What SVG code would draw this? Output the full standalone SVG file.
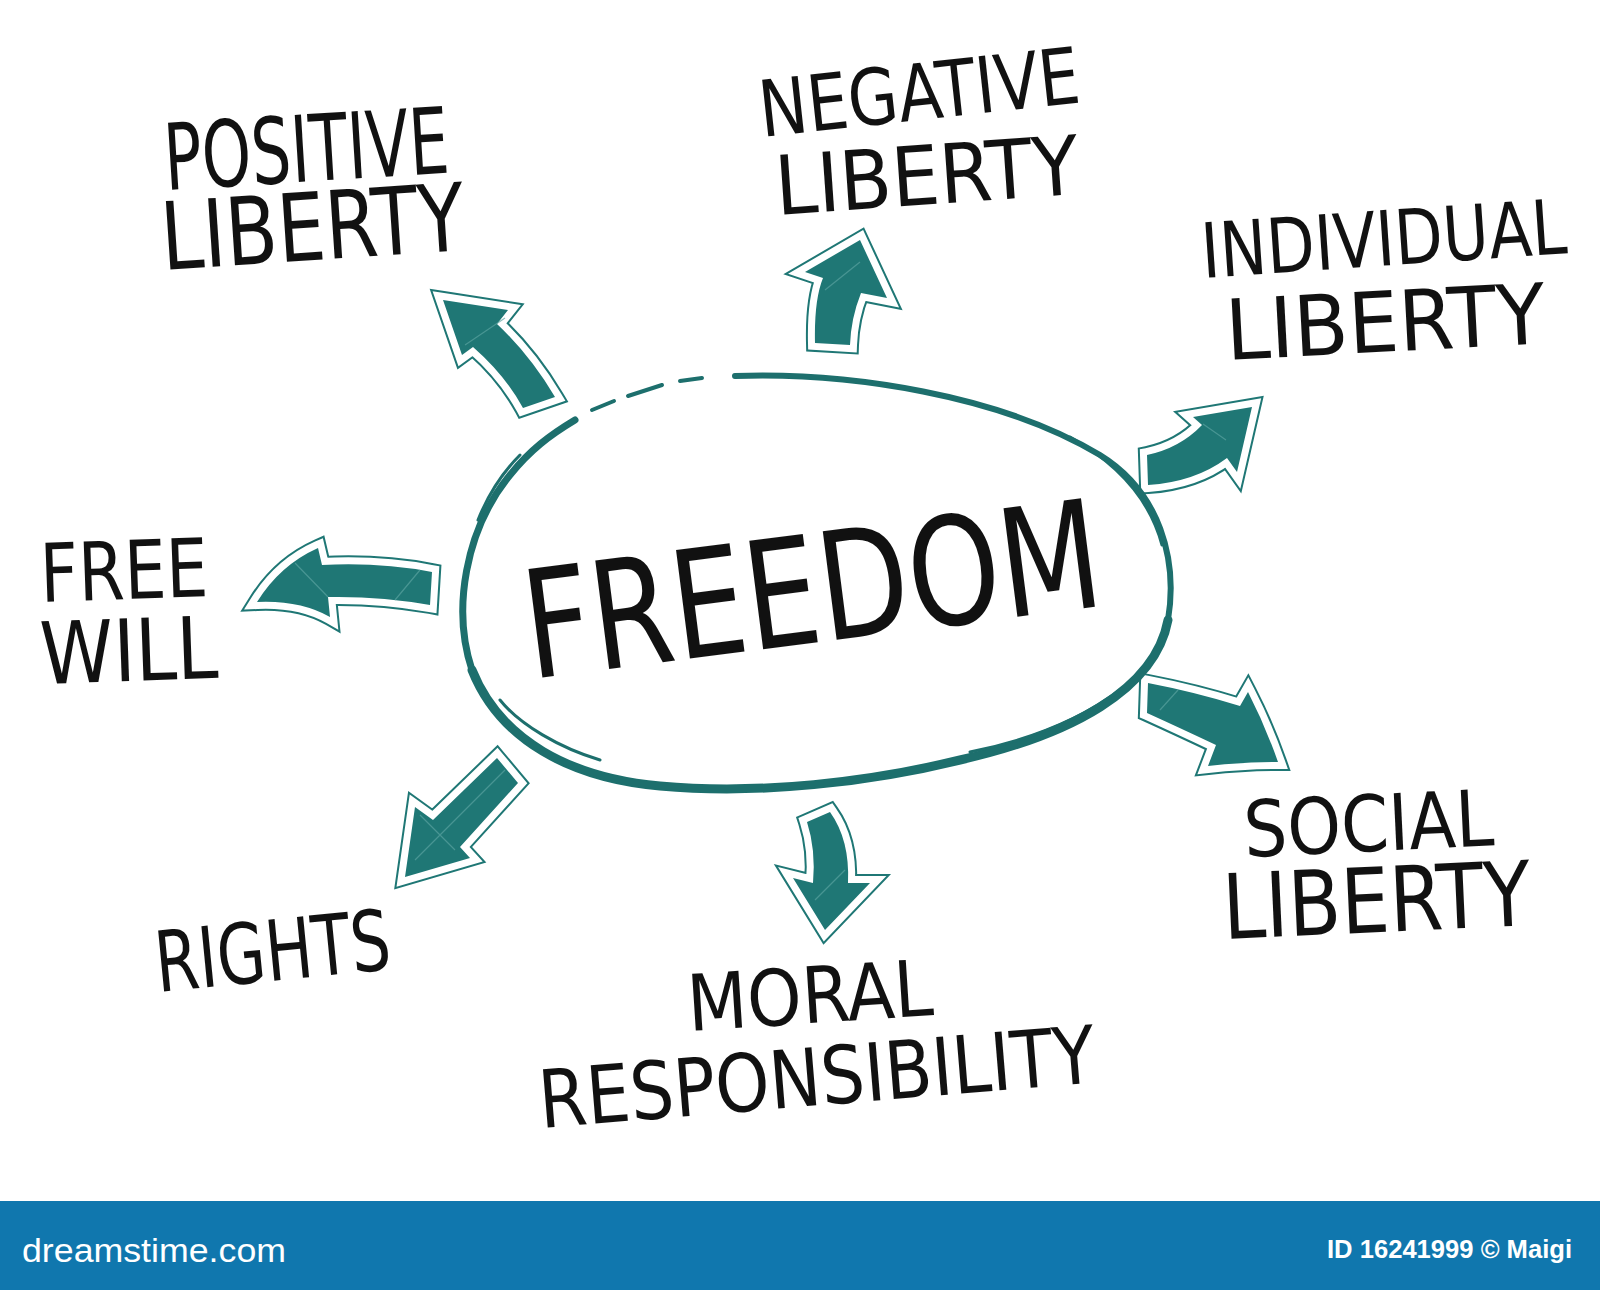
<svg xmlns="http://www.w3.org/2000/svg" xmlns:xlink="http://www.w3.org/1999/xlink" width="1600" height="1290" viewBox="0 0 1600 1290">
<style>
.o{fill:#1f7775;stroke:#1f7775;stroke-width:18;stroke-linejoin:miter;stroke-miterlimit:4}
.w{fill:#ffffff;stroke:#ffffff;stroke-width:14;stroke-linejoin:miter;stroke-miterlimit:4}
.f{fill:#1f7775;stroke:none}
.fold{fill:none;stroke:#5aa3a0;stroke-width:1.2;opacity:0.7}
.hw{font-family:"Liberation Sans Narrow","DejaVu Sans Condensed","Liberation Sans",sans-serif;fill:#111111}
.ring{fill:none;stroke:#1d6f6d;stroke-linecap:round;stroke-linejoin:round}
.banner{font-family:"Liberation Sans","DejaVu Sans",sans-serif;fill:#ffffff}
</style>
<defs>
<path id="a1" d="M443,300 L508,310 L497,324 Q530,355 555,397 L523,408 Q505,375 473,347 L462,355 Z"/>
<path id="a2" d="M860,240 L887,298 L861,293 Q851,318 850,345 L815,343 Q814,300 823,278 L805,272 Z"/>
<path id="a3" d="M1252,407 L1237,472 L1227,458 Q1195,482 1148,485 L1147,455 Q1180,448 1202,425 L1193,417 Z"/>
<path id="a4" d="M257,602 Q280,565 318,548 L322,565 Q380,562 432,572 L430,605 Q380,596 328,597 L330,617 Q300,600 257,602 Z"/>
<path id="a5" d="M1148,683 Q1195,692 1240,706 L1248,692 Q1265,725 1278,762 Q1245,762 1208,766 L1216,745 Q1180,728 1147,713 Z"/>
<path id="a6" d="M807,822 L830,812 Q850,840 848,883 L870,883 L825,930 L793,878 L813,883 Q816,850 807,822 Z"/>
<path id="a7" d="M497,758 L518,783 L460,847 L470,858 L405,877 L415,807 L433,820 Z"/>
</defs>
<rect x="0" y="0" width="1600" height="1290" fill="#ffffff"/>

<g id="connectors">
  <g id="arrow-positive"><use xlink:href="#a1" class="o"/><use xlink:href="#a1" class="w"/><use xlink:href="#a1" class="f"/><path class="fold" d="M465,345 L505,318"/></g>
  <g id="arrow-negative"><use xlink:href="#a2" class="o"/><use xlink:href="#a2" class="w"/><use xlink:href="#a2" class="f"/><path class="fold" d="M825,290 L860,262"/></g>
  <g id="arrow-individual"><use xlink:href="#a3" class="o"/><use xlink:href="#a3" class="w"/><use xlink:href="#a3" class="f"/><path class="fold" d="M1203,424 L1226,440"/></g>
  <g id="arrow-freewill"><use xlink:href="#a4" class="o"/><use xlink:href="#a4" class="w"/><use xlink:href="#a4" class="f"/><path class="fold" d="M295,563 L328,597 M395,600 L420,570"/></g>
  <g id="arrow-social"><use xlink:href="#a5" class="o"/><use xlink:href="#a5" class="w"/><use xlink:href="#a5" class="f"/><path class="fold" d="M1160,710 L1178,690"/></g>
  <g id="arrow-moral"><use xlink:href="#a6" class="o"/><use xlink:href="#a6" class="w"/><use xlink:href="#a6" class="f"/><path class="fold" d="M815,900 L845,870"/></g>
  <g id="arrow-rights"><use xlink:href="#a7" class="o"/><use xlink:href="#a7" class="w"/><use xlink:href="#a7" class="f"/><path class="fold" d="M420,815 L455,850 M415,860 L505,770"/></g>
</g>

<g id="node-freedom">
  <path class="ring" stroke-width="6" d="M735,376 C850,372 1000,395 1100,455 C1160,492 1178,560 1168,620"/>
  <path class="ring" stroke-width="9" d="M1168,620 C1155,690 1070,735 960,760 C870,782 760,795 660,786 C570,778 500,740 472,670"/>
  <path class="ring" stroke-width="7" d="M472,670 C452,610 465,530 510,475 C530,450 550,435 575,420"/>
  <path class="ring" stroke-width="3" d="M1070,437 C1120,465 1150,500 1162,545 M1120,690 C1080,720 1030,740 970,752 M600,760 C560,748 520,725 500,700 M478,520 C490,490 505,470 520,455"/>
  <path class="ring" stroke-width="4" d="M592,410 L614,401 M628,396 L662,385 M680,381 L702,378"/>
  <text class="hw" x="531" y="679" font-size="150" textLength="580" lengthAdjust="spacingAndGlyphs" transform="rotate(-7.3 531 679)">FREEDOM</text>
</g>

<g id="node-positive-liberty">
  <text class="hw" x="166" y="190" font-size="92" textLength="285" lengthAdjust="spacingAndGlyphs" transform="rotate(-3.5 166 190)">POSITIVE</text>
  <text class="hw" x="163" y="270" font-size="94" textLength="304" lengthAdjust="spacingAndGlyphs" transform="rotate(-3.8 163 270)">LIBERTY</text>
</g>

<g id="node-negative-liberty">
  <text class="hw" x="762" y="137" font-size="78" textLength="322" lengthAdjust="spacingAndGlyphs" transform="rotate(-6.2 762 137)">NEGATIVE</text>
  <text class="hw" x="777" y="215" font-size="82" textLength="304" lengthAdjust="spacingAndGlyphs" transform="rotate(-4 777 215)">LIBERTY</text>
</g>

<g id="node-individual-liberty">
  <text class="hw" x="1203" y="278" font-size="76" textLength="366" lengthAdjust="spacingAndGlyphs" transform="rotate(-3.9 1203 278)">INDIVIDUAL</text>
  <text class="hw" x="1227" y="360" font-size="84" textLength="320" lengthAdjust="spacingAndGlyphs" transform="rotate(-3 1227 360)">LIBERTY</text>
</g>

<g id="node-free-will">
  <text class="hw" x="41" y="602" font-size="81" textLength="168" lengthAdjust="spacingAndGlyphs" transform="rotate(-2 41 602)">FREE</text>
  <text class="hw" x="41" y="684" font-size="86" textLength="178" lengthAdjust="spacingAndGlyphs" transform="rotate(-2 41 684)">WILL</text>
</g>

<g id="node-rights">
  <text class="hw" x="158" y="992" font-size="84" textLength="236" lengthAdjust="spacingAndGlyphs" transform="rotate(-5.6 158 992)">RIGHTS</text>
</g>

<g id="node-moral-responsibility">
  <text class="hw" x="689" y="1031" font-size="78" textLength="246" lengthAdjust="spacingAndGlyphs" transform="rotate(-3.7 689 1031)">MORAL</text>
  <text class="hw" x="541" y="1128" font-size="80" textLength="558" lengthAdjust="spacingAndGlyphs" transform="rotate(-4.7 541 1128)">RESPONSIBILITY</text>
</g>

<g id="node-social-liberty">
  <text class="hw" x="1245" y="857" font-size="78" textLength="250" lengthAdjust="spacingAndGlyphs" transform="rotate(-2.7 1245 857)">SOCIAL</text>
  <text class="hw" x="1224" y="939" font-size="90" textLength="308" lengthAdjust="spacingAndGlyphs" transform="rotate(-2.6 1224 939)">LIBERTY</text>
</g>

<g id="footer">
  <rect x="0" y="1201" width="1600" height="89" fill="#1077ae"/>
  <text class="banner" x="22" y="1262" font-size="34" textLength="264" lengthAdjust="spacingAndGlyphs">dreamstime.com</text>
  <text class="banner" x="1327" y="1258" font-size="25" font-weight="bold" textLength="245" lengthAdjust="spacingAndGlyphs">ID 16241999 © Maigi</text>
</g>
</svg>
